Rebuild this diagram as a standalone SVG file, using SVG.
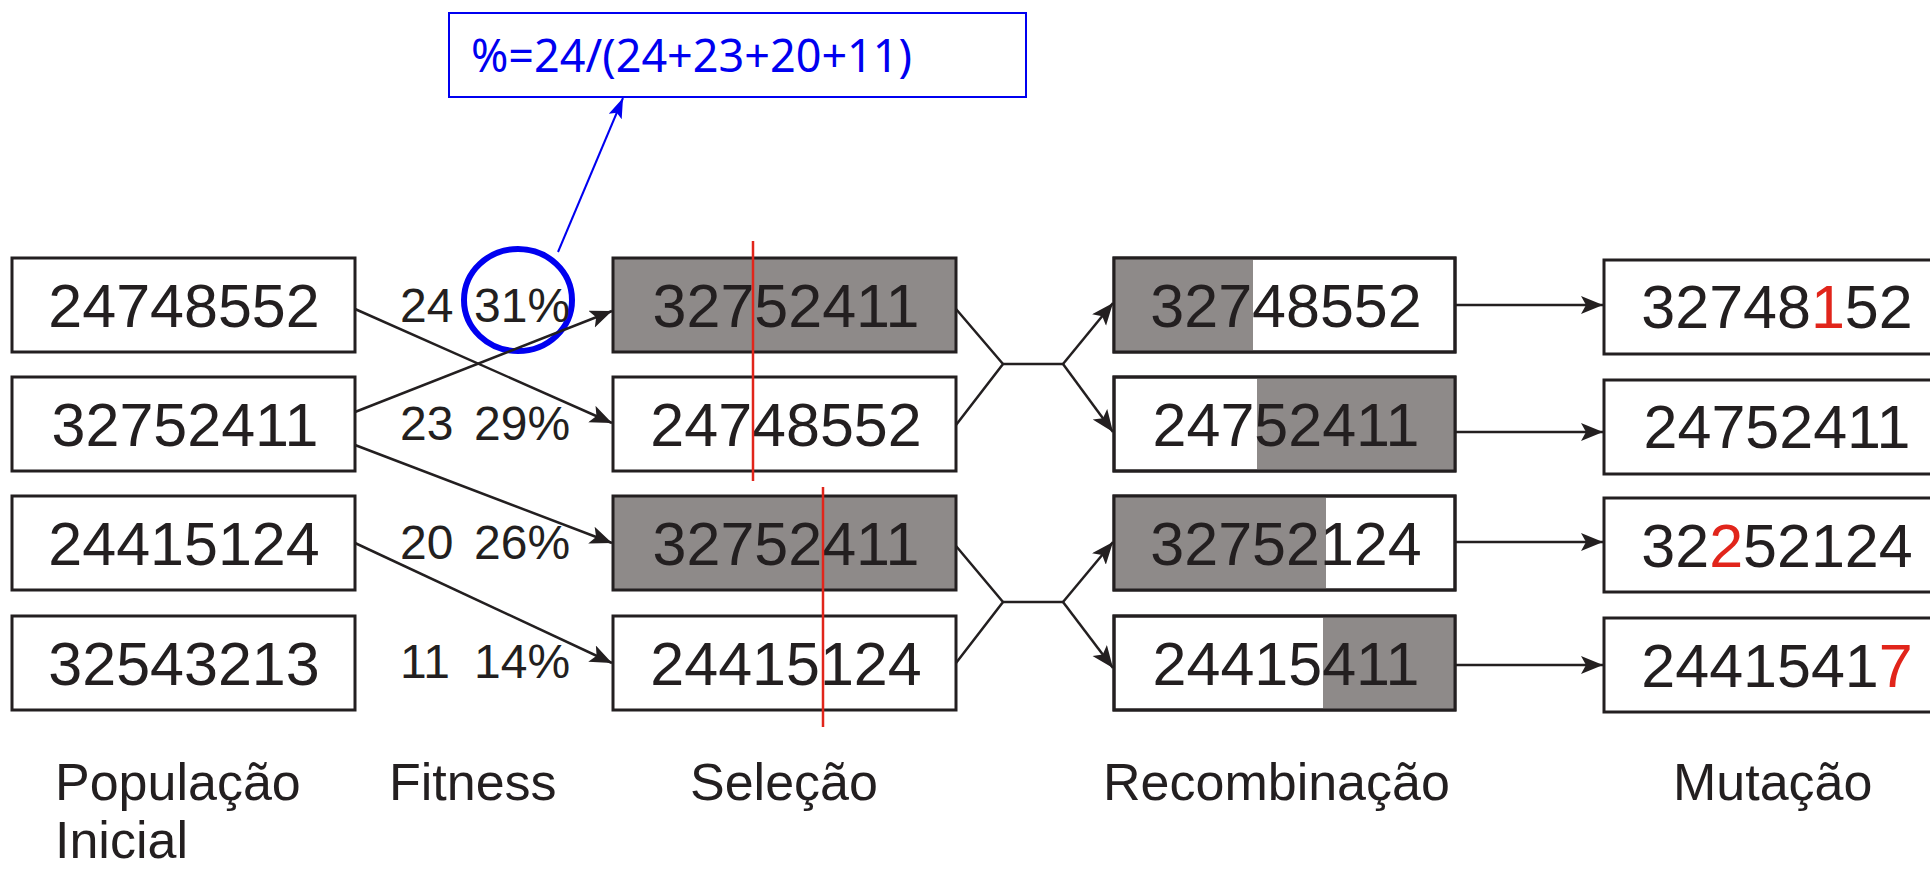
<svg xmlns="http://www.w3.org/2000/svg" width="1930" height="870" viewBox="0 0 1930 870">
<style>
.box{fill:#ffffff;stroke:#231f20;stroke-width:3}
.gbox{fill:#8e8a89;stroke:#231f20;stroke-width:3}
.gray{fill:#8e8a89}
.frame{fill:none;stroke:#231f20;stroke-width:3}
.num{font-family:"Liberation Sans",Arial,sans-serif;font-size:61px;fill:#231f20;text-anchor:middle}
.fit{font-family:"Liberation Sans",Arial,sans-serif;font-size:48px;fill:#231f20}
.lbl{font-family:"Liberation Sans",Arial,sans-serif;font-size:52px;fill:#231f20}
.red{fill:#e1251b}
.con{fill:none;stroke:#231f20;stroke-width:2.5}
.redline{stroke:#e1251b;stroke-width:2.5}
</style>
<defs>
<marker id="ah" markerUnits="userSpaceOnUse" markerWidth="24" markerHeight="20" refX="22" refY="9" orient="auto">
<path d="M0,0 L22,9 L0,18 L5,9 Z" fill="#231f20"/>
</marker>
<marker id="bh" markerUnits="userSpaceOnUse" markerWidth="22" markerHeight="16" refX="20" refY="7" orient="auto">
<path d="M0,0 L20,7 L0,14 L4,7 Z" fill="#0000f0"/>
</marker>
</defs>
<rect width="1930" height="870" fill="#ffffff"/>

<!-- Formula callout -->
<g id="formula">
<rect x="449" y="13" width="577" height="84" fill="#ffffff" stroke="#0000f0" stroke-width="2"/>
<text x="471" y="72" font-family="'Noto Sans','Open Sans',sans-serif" font-size="46" fill="#0000f0" textLength="441" lengthAdjust="spacingAndGlyphs">%=24/(24+23+20+11)</text>
</g>
<g id="highlight">
<ellipse cx="518" cy="300" rx="54" ry="51" fill="none" stroke="#0000f0" stroke-width="6"/>
</g>

<!-- Population -->
<g id="pop1"><rect class="box" x="12" y="258" width="343" height="94"/><text class="num" x="184" y="327">24748552</text></g>
<g id="pop2"><rect class="box" x="12" y="377" width="343" height="94"/><text class="num" x="185" y="446">32752411</text></g>
<g id="pop3"><rect class="box" x="12" y="496" width="343" height="94"/><text class="num" x="184" y="565">24415124</text></g>
<g id="pop4"><rect class="box" x="12" y="616" width="343" height="94"/><text class="num" x="184" y="685">32543213</text></g>

<!-- Fitness -->
<g id="fit1"><text class="fit" x="400" y="322">24</text><text class="fit" x="474" y="322">31%</text></g>
<g id="fit2"><text class="fit" x="400" y="440">23</text><text class="fit" x="474" y="440">29%</text></g>
<g id="fit3"><text class="fit" x="400" y="559">20</text><text class="fit" x="474" y="559">26%</text></g>
<g id="fit4"><text class="fit" x="400" y="678">11</text><text class="fit" x="474" y="678">14%</text></g>

<!-- Selection -->
<g id="sel1"><rect class="gbox" x="613" y="258" width="343" height="94"/><text class="num" x="786" y="327">32752411</text></g>
<g id="sel2"><rect class="box" x="613" y="377" width="343" height="94"/><text class="num" x="786" y="446">24748552</text></g>
<g id="sel3"><rect class="gbox" x="613" y="496" width="343" height="94"/><text class="num" x="786" y="565">32752411</text></g>
<g id="sel4"><rect class="box" x="613" y="616" width="343" height="94"/><text class="num" x="786" y="685">24415124</text></g>
<g id="cuts">
<line class="redline" x1="753" y1="241" x2="753" y2="481"/>
<line class="redline" x1="823" y1="487" x2="823" y2="727"/>
</g>

<!-- Recombination -->
<g id="rec1"><rect class="box" x="1114" y="258" width="341" height="94"/><rect class="gray" x="1114" y="258" width="139" height="94"/><rect class="frame" x="1114" y="258" width="341" height="94"/><text class="num" x="1286" y="327">32748552</text></g>
<g id="rec2"><rect class="box" x="1114" y="377" width="341" height="94"/><rect class="gray" x="1257" y="377" width="198" height="94"/><rect class="frame" x="1114" y="377" width="341" height="94"/><text class="num" x="1286" y="446">24752411</text></g>
<g id="rec3"><rect class="box" x="1114" y="496" width="341" height="94"/><rect class="gray" x="1114" y="496" width="212" height="94"/><rect class="frame" x="1114" y="496" width="341" height="94"/><text class="num" x="1286" y="565">32752124</text></g>
<g id="rec4"><rect class="box" x="1114" y="616" width="341" height="94"/><rect class="gray" x="1323" y="616" width="132" height="94"/><rect class="frame" x="1114" y="616" width="341" height="94"/><text class="num" x="1286" y="685">24415411</text></g>

<!-- Mutation -->
<g id="mut1"><rect class="box" x="1604" y="260" width="346" height="94"/><text class="num" x="1777" y="328">32748<tspan class="red">1</tspan>52</text></g>
<g id="mut2"><rect class="box" x="1604" y="380" width="346" height="94"/><text class="num" x="1777" y="448">24752411</text></g>
<g id="mut3"><rect class="box" x="1604" y="498" width="346" height="94"/><text class="num" x="1777" y="567">32<tspan class="red">2</tspan>52124</text></g>
<g id="mut4"><rect class="box" x="1604" y="618" width="346" height="94"/><text class="num" x="1777" y="687">2441541<tspan class="red">7</tspan></text></g>

<!-- Column labels -->
<g id="labels">
<text class="lbl" x="55" y="800">População</text>
<text class="lbl" x="55" y="858">Inicial</text>
<text class="lbl" x="389" y="800">Fitness</text>
<text class="lbl" x="690" y="800">Seleção</text>
<text class="lbl" x="1103" y="800">Recombinação</text>
<text class="lbl" x="1673" y="800">Mutação</text>
</g>

<!-- Connectors -->
<g id="connectors">
<line class="con" x1="355" y1="309" x2="612" y2="423" marker-end="url(#ah)"/>
<line class="con" x1="355" y1="412" x2="612" y2="311" marker-end="url(#ah)"/>
<line class="con" x1="355" y1="445" x2="612" y2="543" marker-end="url(#ah)"/>
<line class="con" x1="355" y1="543" x2="612" y2="663" marker-end="url(#ah)"/>

<polyline class="con" points="956,309 1003,364 956,425"/>
<line class="con" x1="1003" y1="364" x2="1063" y2="364"/>
<line class="con" x1="1063" y1="364" x2="1113" y2="303" marker-end="url(#ah)"/>
<line class="con" x1="1063" y1="364" x2="1113" y2="432" marker-end="url(#ah)"/>

<polyline class="con" points="956,546 1003,602 956,663"/>
<line class="con" x1="1003" y1="602" x2="1063" y2="602"/>
<line class="con" x1="1063" y1="602" x2="1113" y2="542" marker-end="url(#ah)"/>
<line class="con" x1="1063" y1="602" x2="1113" y2="668" marker-end="url(#ah)"/>

<line class="con" x1="1456" y1="305" x2="1603" y2="305" marker-end="url(#ah)"/>
<line class="con" x1="1456" y1="432" x2="1603" y2="432" marker-end="url(#ah)"/>
<line class="con" x1="1456" y1="542" x2="1603" y2="542" marker-end="url(#ah)"/>
<line class="con" x1="1456" y1="665" x2="1603" y2="665" marker-end="url(#ah)"/>

<line x1="558" y1="252" x2="623" y2="98" stroke="#0000f0" stroke-width="2" marker-end="url(#bh)"/>
</g>
</svg>
